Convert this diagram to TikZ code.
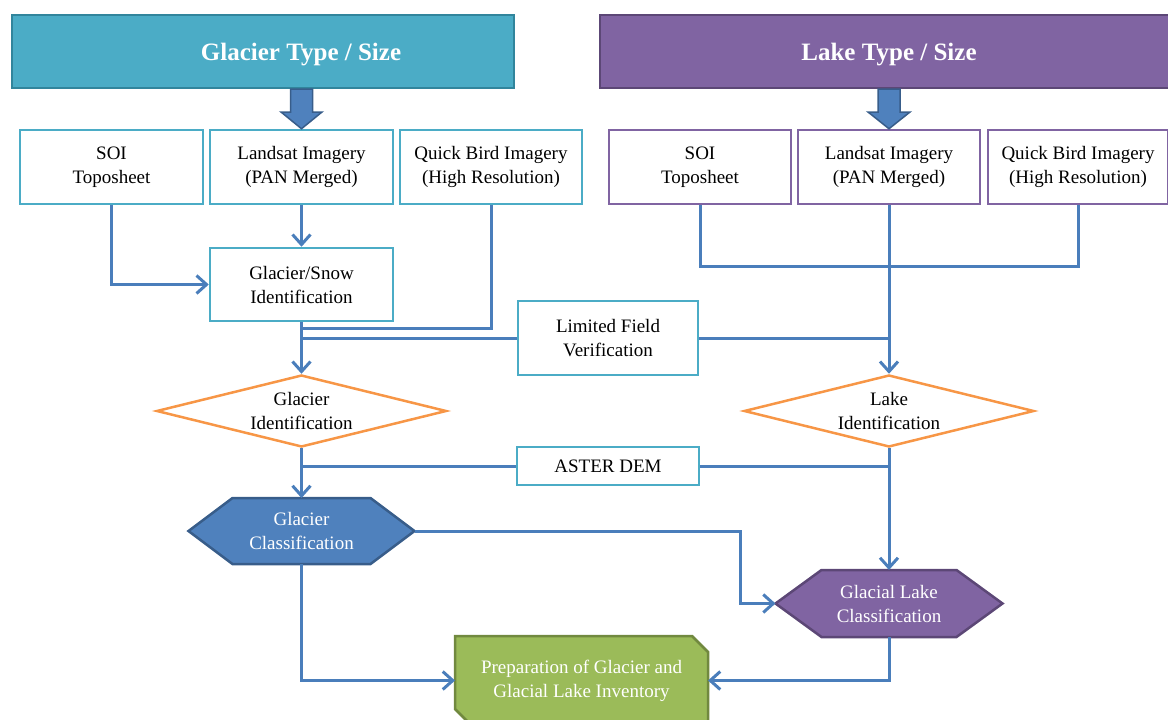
\documentclass[tikz,border=0pt]{standalone}
\usepackage{fontspec}
\setmainfont{Liberation Serif}
\usetikzlibrary{arrows.meta,shapes.geometric}
\definecolor{tealF}{HTML}{4BACC6}
\definecolor{tealD}{HTML}{31859C}
\definecolor{purpF}{HTML}{8064A2}
\definecolor{purpD}{HTML}{5C4776}
\definecolor{blueF}{HTML}{4F81BD}
\definecolor{blueD}{HTML}{385D8A}
\definecolor{lineC}{HTML}{4A7EBB}
\definecolor{orng}{HTML}{F79646}
\definecolor{grnF}{HTML}{9BBB59}
\definecolor{grnD}{HTML}{71893F}
\pgfdeclarelayer{bg}
\pgfsetlayers{bg,main}
\begin{document}
\begin{tikzpicture}[x=1pt,y=-1pt,
  txt/.style={font=\fontsize{19}{24}\selectfont, align=center, inner sep=0pt},
  gbox/.style={txt, draw=tealF, line width=2.5pt, fill=white, minimum height=74pt},
  lbox/.style={txt, draw=purpF, line width=2.5pt, fill=white, minimum height=74pt},
  hdrbox/.style={line width=2.5pt, minimum height=73pt, inner sep=0pt},
  hdrtxt/.style={font=\fontsize{25}{30}\selectfont\bfseries, text=white, inner sep=0pt},
  decide/.style={txt, diamond, aspect=4, draw=orng, line width=2.5pt, fill=white, minimum width=290pt, minimum height=72pt},
  ghost/.style={txt, outer sep=0pt},
  conn/.style={draw=lineC, line width=3pt},
  arr/.style={conn, -{Straight Barb[length=10pt,width=18pt]}},
  bigarrow/.style={fill=blueF, draw=blueD, line width=1.5pt},
]
\useasboundingbox (0,0) rectangle (1168,720);
\clip (0,0) rectangle (1168,720);

% headers
\node[hdrbox, draw=tealD, fill=tealF, minimum width=502pt] (gh) at (263,51.5) {};
\node[hdrtxt] (ght) at (301,55) {Glacier Type / Size};
\node[hdrbox, draw=purpD, fill=purpF, minimum width=580pt] (lh) at (890,51.5) {};
\node[hdrtxt] (lht) at (889,55) {Lake Type / Size};

% glacier source boxes
\node[gbox, minimum width=183pt] (soiG) at (111.5,167) {SOI\\Toposheet};
\node[gbox, minimum width=183pt] (lsG) at (301.5,167) {Landsat Imagery\\(PAN Merged)};
\node[gbox, minimum width=182pt] (qbG) at (491,167) {Quick Bird Imagery\\(High Resolution)};

% lake source boxes
\node[lbox, minimum width=182pt] (soiL) at (700,167) {SOI\\Toposheet};
\node[lbox, minimum width=182pt] (lsL) at (889,167) {Landsat Imagery\\(PAN Merged)};
\node[lbox, minimum width=180pt] (qbL) at (1078,167) {Quick Bird Imagery\\(High Resolution)};

% block arrows
\draw[bigarrow] (290.5,89) -- (312.5,89) -- (312.5,112) -- (322,112) -- (lsG.north) -- (281,112) -- (290.5,112) -- cycle;
\draw[bigarrow] (878,89) -- (900,89) -- (900,112) -- (910,112) -- (lsL.north) -- (868,112) -- (878,112) -- cycle;

% middle boxes
\node[gbox, minimum width=183pt, minimum height=73pt] (gsi) at (301.5,284.5) {Glacier/Snow\\Identification};
\node[gbox, minimum width=180pt] (lfv) at (608,338) {Limited Field\\Verification};
\node[gbox, minimum width=182pt, minimum height=38pt] (aster) at (608,466) {ASTER DEM};

% decisions
\node[decide] (gid) at (301.5,411) {Glacier\\Identification};
\node[decide] (lid) at (889,411) {Lake\\Identification};

% classification hexagons and inventory box
\node[ghost, text=white, minimum width=226pt, minimum height=66pt] (gc) at (301.5,531) {Glacier\\Classification};
\node[ghost, text=white, minimum width=227pt, minimum height=67pt] (glc) at (889,603.5) {Glacial Lake\\Classification};
\node[ghost, text=white, minimum width=253pt, minimum height=89pt] (prep) at (581.5,680.5) {Preparation of Glacier and\\Glacial Lake Inventory};
\begin{pgfonlayer}{bg}
\draw[fill=blueF, draw=blueD, line width=2.5pt] (gc.west) -- ([xshift=44pt]gc.north west) -- ([xshift=-44pt]gc.north east) -- (gc.east) -- ([xshift=-44pt]gc.south east) -- ([xshift=44pt]gc.south west) -- cycle;
\draw[fill=purpF, draw=purpD, line width=2.5pt] (glc.west) -- ([xshift=46pt]glc.north west) -- ([xshift=-46pt]glc.north east) -- (glc.east) -- ([xshift=-46pt]glc.south east) -- ([xshift=46pt]glc.south west) -- cycle;
\draw[fill=grnF, draw=grnD, line width=2.5pt] (prep.north west) -- ([xshift=-16pt]prep.north east) -- ([yshift=-16pt]prep.north east) -- (prep.south east) -- ([xshift=16pt]prep.south west) -- ([yshift=16pt]prep.south west) -- cycle;
\end{pgfonlayer}

% junction points
\coordinate (j1) at (301.5,328);
\coordinate (j2) at (301.5,338);
\coordinate (j3) at (889,338);
\coordinate (j4) at (889,266);
\coordinate (j5) at (301.5,466);
\coordinate (j6) at (889,466);
\coordinate (k1) at (740,531);

% glacier connectors
\draw[arr] (lsG.south) -- (gsi.north);
\draw[arr] (soiG.south) |- (gsi.west);
\draw[conn] (qbG.south) |- (j1);
\draw[arr] (gsi.south) -- (gid.north);
\draw[conn] (j2) -- (lfv.west);
\draw[conn] (lfv.east) -- (j3);

% lake connectors
\draw[conn] (soiL.south) |- (j4) -| (qbL.south);
\draw[arr] (lsL.south) -- (lid.north);

% aster
\draw[conn] (j5) -- (aster.west);
\draw[conn] (aster.east) -- (j6);

% classification
\draw[arr] (gid.south) -- (gc.north);
\draw[arr] (lid.south) -- (glc.north);
\draw[arr] (gc.east) -- (k1) |- (glc.west);
\draw[arr] (gc.south) |- (prep.west);
\draw[arr] (glc.south) |- (prep.east);
\end{tikzpicture}
\end{document}
